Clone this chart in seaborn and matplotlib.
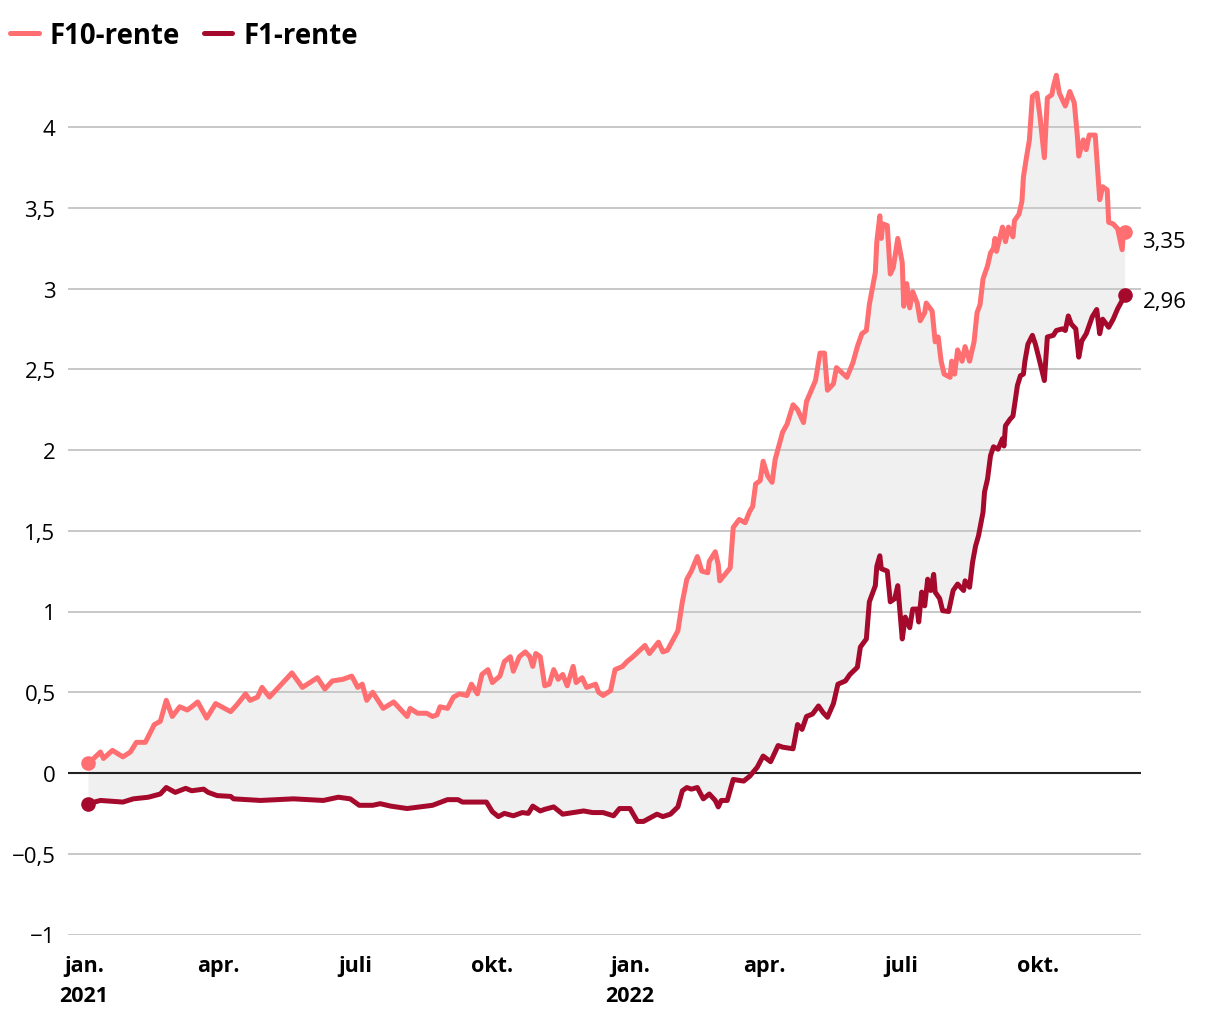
import numpy as np
import pandas as pd
import matplotlib
matplotlib.use('Agg')
import matplotlib.pyplot as plt
import matplotlib.dates as mdates
import seaborn as sns

# dager etter 1. jan 2021 og renter lest av figuren
start = pd.Timestamp('2021-01-01')

f10_days = [3, 11, 13, 19, 26, 31, 35, 41, 47, 51,
            55, 59, 64, 69, 72, 76, 82, 88, 98, 102,
            108, 111, 116, 119, 124, 131, 139, 146, 156, 161,
            166, 173, 179, 183, 186, 189, 193, 200, 207, 216,
            218, 223, 229, 233, 236, 238, 243, 247, 251, 256,
            259, 263, 266, 270, 273, 278, 281, 285, 287, 291,
            295, 298, 300, 302, 305, 308, 311, 314, 317, 320,
            323, 327, 329, 333, 336, 342, 344, 347, 352, 355,
            360, 363, 367, 375, 378, 384, 387, 390, 397, 400,
            403, 406, 410, 413, 417, 418, 422, 424, 425, 432,
            434, 438, 442, 445, 447, 449, 452, 454, 457, 460,
            462, 467, 470, 474, 477, 481, 483, 489, 492, 495,
            497, 501, 503, 510, 514, 517, 520, 523, 525, 529,
            530, 532, 533, 534, 537, 539, 541, 544, 547, 548,
            550, 552, 554, 557, 559, 562, 563, 567, 569, 571,
            573, 575, 579, 580, 582, 584, 587, 589, 592, 595,
            597, 599, 601, 604, 606, 608, 609, 610, 614, 616,
            618, 621, 622, 625, 627, 628, 630, 632, 634, 637,
            639, 642, 644, 647, 648, 650, 652, 656, 659, 662,
            664, 665, 668, 670, 672, 676, 679, 681, 684, 685,
            688, 691, 694, 695, 696]
f10_values = [0.06, 0.13, 0.09, 0.14, 0.10, 0.13, 0.19, 0.19, 0.30, 0.32,
              0.45, 0.35, 0.41, 0.39, 0.41, 0.44, 0.34, 0.43, 0.38, 0.42,
              0.49, 0.45, 0.47, 0.53, 0.47, 0.54, 0.62, 0.53, 0.59, 0.52,
              0.57, 0.58, 0.60, 0.53, 0.55, 0.45, 0.50, 0.40, 0.44, 0.35,
              0.40, 0.37, 0.37, 0.35, 0.36, 0.41, 0.40, 0.47, 0.49, 0.48,
              0.55, 0.49, 0.61, 0.64, 0.56, 0.60, 0.69, 0.72, 0.63, 0.72,
              0.75, 0.72, 0.66, 0.74, 0.72, 0.54, 0.55, 0.64, 0.58, 0.61,
              0.54, 0.66, 0.56, 0.59, 0.53, 0.55, 0.50, 0.48, 0.51, 0.64,
              0.66, 0.69, 0.72, 0.79, 0.74, 0.81, 0.75, 0.76, 0.88, 1.06,
              1.20, 1.25, 1.34, 1.25, 1.24, 1.31, 1.37, 1.29, 1.19, 1.27,
              1.52, 1.57, 1.55, 1.62, 1.65, 1.79, 1.81, 1.93, 1.84, 1.80,
              1.94, 2.11, 2.16, 2.28, 2.25, 2.17, 2.30, 2.43, 2.60, 2.60,
              2.37, 2.41, 2.51, 2.45, 2.54, 2.64, 2.72, 2.74, 2.90, 3.10,
              3.29, 3.45, 3.31, 3.40, 3.39, 3.09, 3.13, 3.31, 3.16, 2.89,
              3.03, 2.88, 2.98, 2.91, 2.80, 2.85, 2.91, 2.86, 2.67, 2.70,
              2.55, 2.47, 2.45, 2.55, 2.47, 2.62, 2.55, 2.64, 2.55, 2.67,
              2.85, 2.90, 3.06, 3.14, 3.22, 3.25, 3.31, 3.23, 3.38, 3.29,
              3.38, 3.32, 3.42, 3.46, 3.54, 3.69, 3.81, 3.92, 4.19, 4.21,
              4.07, 3.81, 4.18, 4.20, 4.25, 4.32, 4.21, 4.13, 4.22, 4.15,
              3.95, 3.82, 3.92, 3.86, 3.95, 3.95, 3.55, 3.63, 3.61, 3.41,
              3.40, 3.37, 3.24, 3.37, 3.35]

f1_days = [3, 11, 26, 33, 43, 51, 55, 61, 68, 72,
           80, 83, 89, 98, 100, 118, 140, 160, 170, 178,
           184, 193, 198, 205, 216, 233, 243, 250, 253, 269,
           273, 277, 281, 287, 293, 297, 300, 305, 308, 314,
           320, 327, 334, 340, 347, 354, 358, 365, 370, 374,
           383, 387, 392, 397, 400, 403, 406, 410, 414, 418,
           422, 424, 426, 430, 434, 441, 445, 450, 454, 459,
           464, 467, 474, 477, 480, 483, 487, 491, 494, 497,
           501, 504, 509, 512, 517, 519, 523, 525, 529, 530,
           532, 533, 537, 539, 542, 544, 547, 549, 552, 554,
           557, 558, 560, 562, 564, 566, 568, 569, 572, 574,
           578, 581, 584, 588, 589, 592, 594, 596, 598, 601,
           602, 604, 606, 608, 611, 614, 615, 616, 619, 621,
           624, 626, 628, 629, 631, 634, 636, 639, 642, 644,
           648, 650, 654, 656, 658, 660, 663, 665, 667, 670,
           674, 677, 679, 681, 685, 688, 691, 696]
f1_values = [-0.19, -0.17, -0.18, -0.16, -0.15, -0.13, -0.09, -0.12, -0.095, -0.11,
             -0.10, -0.12, -0.14, -0.145, -0.16, -0.17, -0.16, -0.17, -0.15, -0.16,
             -0.20, -0.20, -0.19, -0.205, -0.22, -0.20, -0.165, -0.165, -0.18, -0.18,
             -0.24, -0.27, -0.25, -0.265, -0.245, -0.25, -0.205, -0.235, -0.225, -0.21,
             -0.255, -0.245, -0.235, -0.245, -0.245, -0.265, -0.22, -0.22, -0.30, -0.30,
             -0.255, -0.27, -0.255, -0.21, -0.11, -0.09, -0.10, -0.09, -0.16, -0.13,
             -0.17, -0.21, -0.17, -0.17, -0.04, -0.05, -0.02, 0.035, 0.105, 0.07,
             0.17, 0.16, 0.15, 0.30, 0.27, 0.35, 0.365, 0.415, 0.375, 0.345,
             0.43, 0.55, 0.57, 0.61, 0.655, 0.78, 0.83, 1.06, 1.16, 1.28,
             1.345, 1.265, 1.25, 1.06, 1.08, 1.16, 0.83, 0.965, 0.90, 1.015,
             1.015, 0.935, 1.12, 1.035, 1.20, 1.13, 1.23, 1.12, 1.08, 1.005,
             1.0, 1.13, 1.17, 1.13, 1.19, 1.15, 1.305, 1.405, 1.47, 1.615,
             1.74, 1.82, 1.965, 2.02, 2.005, 2.07, 2.025, 2.15, 2.19, 2.21,
             2.40, 2.46, 2.47, 2.55, 2.655, 2.71, 2.655, 2.545, 2.43, 2.70,
             2.71, 2.74, 2.75, 2.74, 2.83, 2.78, 2.75, 2.575, 2.675, 2.72,
             2.825, 2.87, 2.72, 2.81, 2.76, 2.81, 2.875, 2.96]

x_tick_dates = ['2021-01-01', '2021-04-01', '2021-07-01', '2021-10-01',
                '2022-01-01', '2022-04-01', '2022-07-01', '2022-10-01']
x_tick_labels = ['jan.\n2021', 'apr.', 'juli', 'okt.', 'jan.\n2022', 'apr.', 'juli', 'okt.']
y_ticks = [-1, -0.5, 0, 0.5, 1, 1.5, 2, 2.5, 3, 3.5, 4]

col_f10 = '#ff6e70'
col_f1 = '#a50a2d'

f10 = pd.DataFrame({'dato': start + pd.to_timedelta(f10_days, unit='D'), 'rente': f10_values})
f1 = pd.DataFrame({'dato': start + pd.to_timedelta(f1_days, unit='D'), 'rente': f1_values})

sns.set_theme(style='white')
plt.rcParams['font.family'] = ['Open Sans', 'DejaVu Sans']
plt.rcParams['text.color'] = 'black'

fig = plt.figure(figsize=(12.2, 10.2), dpi=100)
ax = fig.add_axes([68 / 1220, (1020 - 935.5) / 1020, (1141 - 68) / 1220, (935.5 - 63.4) / 1020])

sns.lineplot(data=f10, x='dato', y='rente', ax=ax, color=col_f10, lw=3.6,
             estimator=None, sort=False, label='F10-rente', zorder=3)
sns.lineplot(data=f1, x='dato', y='rente', ax=ax, color=col_f1, lw=3.6,
             estimator=None, sort=False, label='F1-rente', zorder=3)

# grått felt mellom linjene
xs = np.concatenate([mdates.date2num(f10['dato']), mdates.date2num(f1['dato'])[::-1]])
ys = np.concatenate([f10['rente'].values, f1['rente'].values[::-1]])
ax.fill(xs, ys, color='#f0f0f0', lw=0, zorder=0.3)

for y in y_ticks:
    if y == 0:
        ax.axhline(y, color='#222222', lw=1.5, zorder=2)
    else:
        ax.axhline(y, color='#c4c4c4', lw=1.3, zorder=0.5)

# prikker i start og slutt
for df, c in [(f10, col_f10), (f1, col_f1)]:
    ax.plot(df['dato'].iloc[[0, -1]], df['rente'].iloc[[0, -1]], 'o', ms=9.5, color=c, zorder=4)

ax.annotate(f"{f10_values[-1]:.2f}".replace('.', ','), xy=(f10['dato'].iloc[-1], f10_values[-1]),
            xytext=(12, -7), textcoords='offset points', ha='left', va='center', fontsize=16)
ax.annotate(f"{f1_values[-1]:.2f}".replace('.', ','), xy=(f1['dato'].iloc[-1], f1_values[-1]),
            xytext=(13, -5), textcoords='offset points', ha='left', va='center', fontsize=16)

ax.set_xlim(start - pd.Timedelta(days=10.7), start + pd.Timedelta(days=706.6))
ax.set_ylim(-1, 4.4)

ax.set_xticks(pd.to_datetime(x_tick_dates))
ax.set_xticklabels(x_tick_labels, fontsize=15.5, fontweight='bold', linespacing=1.55)
ax.set_yticks(y_ticks)
ax.set_yticklabels([f"{v:g}".replace('.', ',').replace('-', '\u2212') for v in y_ticks], fontsize=16)
ax.tick_params(axis='x', length=0, pad=15, colors='black')
ax.tick_params(axis='y', length=0, pad=9, colors='black')
ax.set_xlabel('')
ax.set_ylabel('')
sns.despine(ax=ax, left=True, bottom=True)

ax.legend(loc='center left', bbox_to_anchor=(10 / 1220, 1 - 36 / 1020), bbox_transform=fig.transFigure,
          ncol=2, frameon=False, prop={'weight': 'bold', 'size': 19.8},
          handlelength=1.05, handletextpad=0.4, columnspacing=0.85, borderpad=0, borderaxespad=0)

fig.savefig('out.png', dpi=100)
